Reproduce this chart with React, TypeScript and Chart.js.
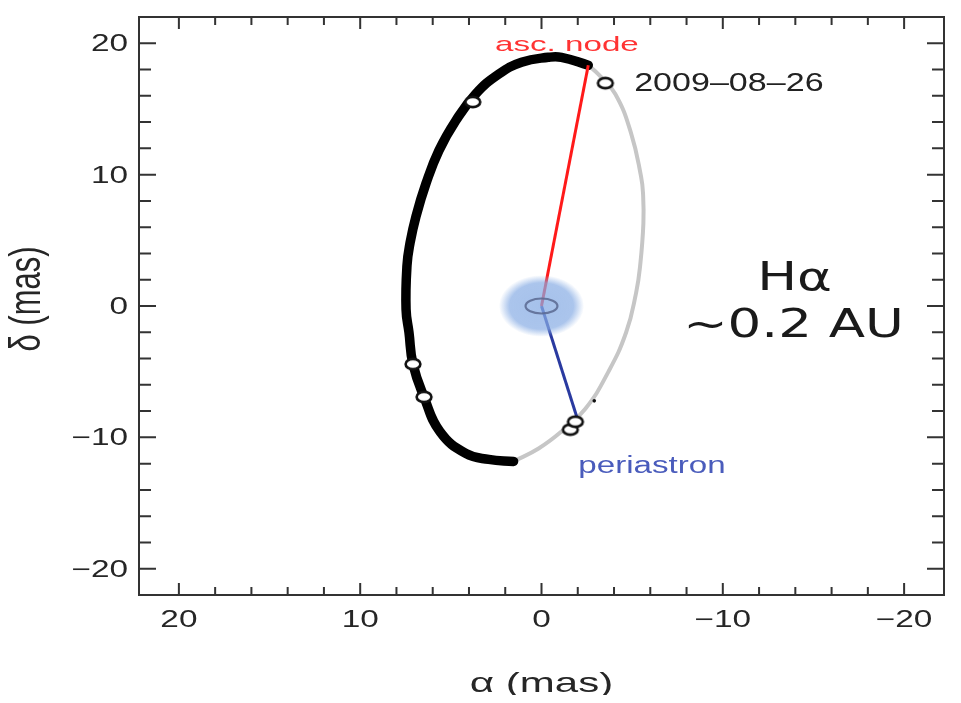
import { useEffect, useRef } from "react";
import { Chart, registerables } from "chart.js";

Chart.register(...registerables);

// ---- data (mas) ----
const BLACK_ARC_RA = [-2.58, -1.1, -0.38, 1.1, 2.36, 3.63, 4.73, 5.66, 6.37, 6.92, 7.25, 7.42, 7.47, 7.31, 7.09, 6.48, 5.6, 4.18, 2.91, 1.54];
const BLACK_ARC_DEC = [18.33, 18.93, 18.93, 18.56, 17.65, 16.14, 14.1, 11.83, 9.33, 6.84, 4.8, 3.06, -0.26, -2.0, -4.42, -6.92, -9.56, -11.22, -11.68, -11.83];

const GRAY_ARC_RA = [1.54, 0.16, -1.1, -2.42, -3.68, -4.67, -5.22, -5.44, -5.62, -5.6, -5.49, -4.95, -4.07, -3.13, -2.58];
const GRAY_ARC_DEC = [-11.83, -10.85, -9.56, -7.82, -5.03, -2.0, 1.02, 3.06, 6.31, 8.58, 9.86, 13.11, 16.14, 17.65, 18.33];

const NODE_LINE_RA = [-2.58, 0];
const NODE_LINE_DEC = [18.33, 0];
const PERI_LINE_RA = [0, -1.98];
const PERI_LINE_DEC = [0, -8.58];

const OBS_RA = [3.79, 7.09, 6.48, -1.59, -1.87];
const OBS_DEC = [15.53, -4.42, -6.92, -9.41, -8.81];
const EPOCH_RA = [-3.52];
const EPOCH_DEC = [16.97];
const DOT_RA = [-2.91];
const DOT_DEC = [-7.22];

const STAR_RADIUS = 2.35;
const RING_RADII = [0.88, 0.57];

const X_TICKS = [20, 10, 0, -10, -20];
const X_TICK_LABELS = ["20", "10", "0", "\u221210", "\u221220"];
const Y_TICKS = [20, 10, 0, -10, -20];
const Y_TICK_LABELS = ["20", "10", "0", "\u221210", "\u221220"];
const MINOR_TICKS = [-18, -16, -14, -12, -8, -6, -4, -2, 2, 4, 6, 8, 12, 14, 16, 18];

const X_TITLE = "\u03b1 (mas)";
const Y_TITLE = "\u03b4 (mas)";

// annotation texts anchored in data coordinates
const NOTES = [
  { text: "asc. node", ra: -1.4, dec: 19.39, font: "21px 'Liberation Sans'", sx: 1.58, align: "center", color: "#ff3333" },
  { text: "2009\u201308\u201326", ra: -5.11, dec: 16.36, font: "26px 'Liberation Sans'", sx: 1.31, align: "left", color: "#222222" },
  { text: "H\u03b1", ra: -13.96, dec: 1.25, font: "39px 'DejaVu Sans'", sx: 1.36, align: "center", color: "#1a1a1a" },
  { text: "~0.2 AU", ra: -13.9, dec: -2.38, font: "39px 'DejaVu Sans'", sx: 1.36, align: "center", color: "#1a1a1a" },
  { text: "periastron", ra: -2.03, dec: -12.74, font: "23px 'Liberation Sans'", sx: 1.44, align: "left", color: "#4a5cbc" },
];

const zip = (xs: number[], ys: number[]) => xs.map((x, i) => ({ x, y: ys[i] }));

function makeMarker(): HTMLCanvasElement {
  const c = document.createElement("canvas");
  c.width = 22;
  c.height = 16;
  const g = c.getContext("2d")!;
  g.beginPath();
  g.ellipse(11, 8, 7.4, 5.1, 0, 0, Math.PI * 2);
  g.fillStyle = "#ffffff";
  g.fill();
  g.lineWidth = 2.6;
  g.strokeStyle = "#111111";
  g.stroke();
  return c;
}

function stretchedText(ctx: CanvasRenderingContext2D, text: string, x: number, y: number, font: string, sx: number, align: CanvasTextAlign, color: string) {
  ctx.save();
  ctx.translate(x, y);
  ctx.scale(sx, 1);
  ctx.font = font;
  ctx.textAlign = align;
  ctx.textBaseline = "alphabetic";
  ctx.fillStyle = color;
  ctx.fillText(text, 0, 0);
  ctx.restore();
}

const framePlugin = {
  id: "frameAndText",
  afterDatasetsDraw(chart: any) {
    const { ctx, chartArea: a, scales } = chart;
    const xs = scales.x;
    const ys = scales.y;

    // central star + disk
    const cx = xs.getPixelForValue(0);
    const cy = ys.getPixelForValue(0);
    const rx = Math.abs(xs.getPixelForValue(STAR_RADIUS) - cx);
    const ry = Math.abs(ys.getPixelForValue(STAR_RADIUS) - cy);
    ctx.save();
    ctx.translate(cx, cy);
    ctx.scale(rx, ry);
    const grad = ctx.createRadialGradient(0, 0, 0, 0, 0, 1);
    grad.addColorStop(0, "rgba(135,172,228,0.75)");
    grad.addColorStop(0.75, "rgba(135,172,228,0.7)");
    grad.addColorStop(1, "rgba(135,172,228,0)");
    ctx.fillStyle = grad;
    ctx.beginPath();
    ctx.arc(0, 0, 1, 0, Math.PI * 2);
    ctx.fill();
    ctx.restore();

    const rrx = Math.abs(xs.getPixelForValue(RING_RADII[0]) - cx);
    const rry = Math.abs(ys.getPixelForValue(RING_RADII[1]) - cy);
    ctx.save();
    ctx.beginPath();
    ctx.ellipse(cx, cy, rrx, rry, 0, 0, Math.PI * 2);
    ctx.strokeStyle = "rgba(90,105,145,0.85)";
    ctx.lineWidth = 2.2;
    ctx.stroke();
    ctx.restore();

    // frame
    ctx.save();
    ctx.strokeStyle = "#333333";
    ctx.lineWidth = 2;
    ctx.strokeRect(a.left, a.top, a.right - a.left, a.bottom - a.top);

    const xTick = (v: number, len: number) => {
      const px = xs.getPixelForValue(v);
      ctx.beginPath();
      ctx.moveTo(px, a.bottom);
      ctx.lineTo(px, a.bottom - len);
      ctx.moveTo(px, a.top);
      ctx.lineTo(px, a.top + len);
      ctx.stroke();
    };
    const yTick = (v: number, len: number) => {
      const py = ys.getPixelForValue(v);
      ctx.beginPath();
      ctx.moveTo(a.left, py);
      ctx.lineTo(a.left + len, py);
      ctx.moveTo(a.right, py);
      ctx.lineTo(a.right - len, py);
      ctx.stroke();
    };
    X_TICKS.forEach((v) => xTick(v, 12));
    MINOR_TICKS.forEach((v) => xTick(v, 8));
    Y_TICKS.forEach((v) => yTick(v, 17));
    MINOR_TICKS.forEach((v) => yTick(v, 12));
    ctx.restore();

    // tick labels
    const tickFont = "23px 'Liberation Sans'";
    X_TICKS.forEach((v, i) => {
      stretchedText(ctx, X_TICK_LABELS[i], xs.getPixelForValue(v), a.bottom + 32, tickFont, 1.45, "center", "#262626");
    });
    Y_TICKS.forEach((v, i) => {
      stretchedText(ctx, Y_TICK_LABELS[i], a.left - 11, ys.getPixelForValue(v) + 8, tickFont, 1.45, "right", "#262626");
    });

    // axis titles
    stretchedText(ctx, X_TITLE, (a.left + a.right) / 2, a.bottom + 97, "28px 'Liberation Sans'", 1.5, "center", "#262626");
    ctx.save();
    ctx.translate(20, (a.top + a.bottom) / 2 - 7);
    ctx.scale(1.45, 1);
    ctx.rotate(-Math.PI / 2);
    ctx.font = "31px 'Liberation Sans'";
    ctx.textAlign = "center";
    ctx.textBaseline = "middle";
    ctx.fillStyle = "#262626";
    ctx.fillText(Y_TITLE, 0, 0);
    ctx.restore();

    // annotations
    NOTES.forEach((n) => {
      stretchedText(ctx, n.text, xs.getPixelForValue(n.ra), ys.getPixelForValue(n.dec), n.font, n.sx, n.align as CanvasTextAlign, n.color);
    });
  },
};

export default function App() {
  const ref = useRef<HTMLCanvasElement>(null);
  useEffect(() => {
    const canvas = ref.current!;
    const marker = makeMarker();
    const chart = new Chart(canvas, {
      type: "scatter",
      data: {
        datasets: [
          { label: "epoch", data: zip(EPOCH_RA, EPOCH_DEC), pointStyle: marker as any, pointRadius: 8, showLine: false, order: 0 },
          { label: "obs", data: zip(OBS_RA, OBS_DEC), pointStyle: marker as any, pointRadius: 8, showLine: false, order: 1 },
          { label: "dot", data: zip(DOT_RA, DOT_DEC), pointRadius: 1.8, backgroundColor: "#111", borderWidth: 0, showLine: false, order: 2 },
          { label: "node", data: zip(NODE_LINE_RA, NODE_LINE_DEC), showLine: true, borderColor: "#ff1a1a", borderWidth: 3, pointRadius: 0, order: 3 },
          { label: "peri", data: zip(PERI_LINE_RA, PERI_LINE_DEC), showLine: true, borderColor: "#2a3aa0", borderWidth: 3, pointRadius: 0, order: 4 },
          { label: "black", data: zip(BLACK_ARC_RA, BLACK_ARC_DEC), showLine: true, borderColor: "#000000", borderWidth: 9.5, pointRadius: 0, tension: 0.45, borderCapStyle: "round", borderJoinStyle: "round", order: 5 },
          { label: "gray", data: zip(GRAY_ARC_RA, GRAY_ARC_DEC), showLine: true, borderColor: "#c6c6c6", borderWidth: 4, pointRadius: 0, tension: 0.45, borderCapStyle: "round", order: 6 },
        ],
      },
      options: {
        animation: false,
        responsive: false,
        devicePixelRatio: 1,
        layout: { padding: { left: 131, top: 5, right: 7, bottom: 100 } },
        plugins: { legend: { display: false }, tooltip: { enabled: false } },
        events: [],
        scales: {
          x: { type: "linear", reverse: true, min: -22.2, max: 22.2, display: false },
          y: { type: "linear", min: -22, max: 22, display: false },
        },
      },
      plugins: [framePlugin],
    });
    return () => chart.destroy();
  }, []);
  return (
    <div style={{ width: 945, height: 687 }}>
      <canvas ref={ref} width={945} height={687} style={{ display: "block" }} />
    </div>
  );
}
